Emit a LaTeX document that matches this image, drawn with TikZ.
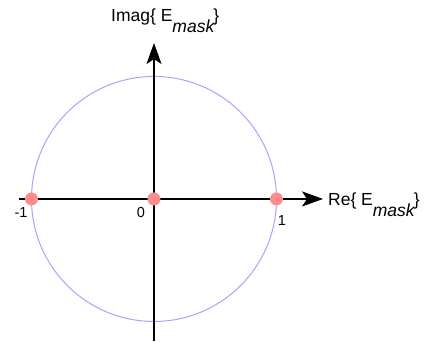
\documentclass[tikz,border=0pt]{standalone}
\usepackage{fontspec}
\setmainfont{Liberation Sans}
\usetikzlibrary{arrows.meta}
\definecolor{ringblue}{RGB}{165,165,255}
\definecolor{zeropink}{RGB}{255,140,140}
\newcommand{\Emask}{E\raisebox{-0.6em}{\itshape mask}\kern-0.05em}

\begin{document}
\begin{tikzpicture}[x=122.5pt,y=122.5pt,
    axis/.style={line width=1.1pt,-{Stealth[length=21pt,width=15pt,inset=5pt]}},
    zero/.style={circle,fill=zeropink,inner sep=0pt,minimum size=13pt},
    lbl/.style={font=\fontsize{17.5}{20}\selectfont,inner sep=0pt},
    num/.style={font=\fontsize{14.5}{17}\selectfont,inner sep=0pt}]
    \useasboundingbox (-1.257,-1.167) rectangle (2.253,1.624);
    \draw[ringblue,line width=1pt] (0,0) circle (1);
    \coordinate (xs) at (-1.098,0);
    \coordinate (xe) at (1.38,0);
    \coordinate (ys) at (0,-1.159);
    \coordinate (ye) at (0,1.273);
    \draw[axis] (xs) -- (xe);
    \draw[axis] (ys) -- (ye);
    \node[zero] (m1) at (-1,0) {};
    \node[zero] (p0) at (0,0) {};
    \node[zero] (p1) at (1,0) {};
    \node[num] at (-1.086,-0.114) {-1};
    \node[num] at (-0.106,-0.114) {0};
    \node[num] at (1.045,-0.18) {1};
    \node[lbl,anchor=base west] at (1.42,-0.057) {Re\{ \Emask\}};
    \node[lbl,anchor=base west] at (-0.351,1.445) {Imag\{ \Emask\}};
  \end{tikzpicture}
\end{document}
